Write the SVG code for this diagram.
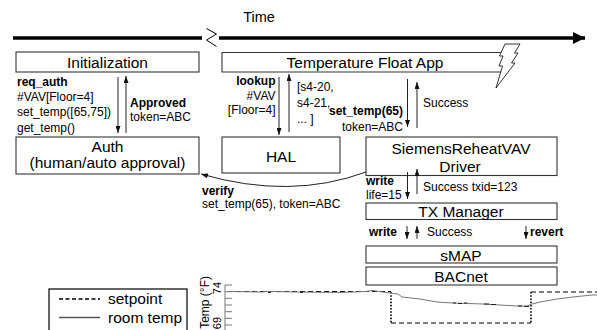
<svg xmlns="http://www.w3.org/2000/svg" width="597" height="330" viewBox="0 0 597 330">
  <style>
    .box { fill: #fff; stroke: #333; stroke-width: 1.1; }
    .t { font-family: "Liberation Sans", Arial, sans-serif; fill: #000; }
    .big { font-size: 15.5px; text-anchor: middle; }
    .sm { font-size: 12px; }
    .b { font-weight: bold; }
    .end { text-anchor: end; }
    .conn { stroke: #222; stroke-width: 1; fill: none; }
    .axis { stroke: #777; stroke-width: 1; fill: none; }
  </style>
  <defs>
    <marker id="ah" markerWidth="7" markerHeight="5" refX="7" refY="2.5" orient="auto" markerUnits="userSpaceOnUse">
      <path d="M0,0 L7,2.5 L0,5 z" fill="#111"/>
    </marker>
    <marker id="tl" markerWidth="13" markerHeight="12" refX="12" refY="6" orient="auto" markerUnits="userSpaceOnUse">
      <path d="M0,0 L12,6 L0,12 z" fill="#000"/>
    </marker>
  </defs>

  <!-- time axis with a break -->
  <g id="timeline">
    <text class="t" x="259" y="22" font-size="14.5" text-anchor="middle">Time</text>
    <line x1="13" y1="38" x2="202" y2="38" stroke="#000" stroke-width="3.4"/>
    <polyline points="206.5,28.5 216.5,34 206.5,40 216.5,46.5" fill="none" stroke="#000" stroke-width="1"/>
    <line x1="219" y1="38" x2="585" y2="38" stroke="#000" stroke-width="3.4" marker-end="url(#tl)"/>
  </g>

  <g id="initialization">
    <rect class="box" x="16" y="52" width="183" height="20"/>
    <text class="t big" x="107.5" y="67.5">Initialization</text>
  </g>

  <g id="temperature-float-app">
    <polyline points="501,52.5 222,52.5 222,72 504,72" fill="none" stroke="#333" stroke-width="1.1"/>
    <text class="t big" x="365" y="68">Temperature Float App</text>
    <polygon points="505,44 520,44 514.5,53 518,53 511.5,63 515,63 496,88 502.5,66 499,66 503,56 499.5,56" fill="#fff" stroke="#000" stroke-width="0.8" stroke-linejoin="miter"/>
  </g>

  <g id="auth">
    <rect class="box" x="16" y="137" width="183" height="37"/>
    <text class="t big" x="107.5" y="152.3" font-size="15">Auth</text>
    <text class="t big" x="107.5" y="168" font-size="15">(human/auto approval)</text>
  </g>

  <g id="hal">
    <rect class="box" x="222" y="137" width="118" height="36"/>
    <text class="t big" x="281" y="161.5">HAL</text>
  </g>

  <g id="driver">
    <rect class="box" x="366" y="137" width="191" height="38.5"/>
    <text class="t big" x="461" y="154">SiemensReheatVAV</text>
    <text class="t big" x="460" y="171.7">Driver</text>
  </g>

  <g id="tx-manager">
    <rect class="box" x="366" y="203" width="191" height="16.5"/>
    <text class="t big" x="461" y="216.5">TX Manager</text>
  </g>

  <g id="smap">
    <rect class="box" x="366" y="246" width="191" height="17"/>
    <text class="t big" x="461" y="260.5">sMAP</text>
  </g>

  <g id="bacnet">
    <rect class="box" x="366" y="267" width="191" height="18"/>
    <text class="t big" x="461" y="282">BACnet</text>
  </g>

  <!-- messages between components -->
  <g id="connectors">
    <line class="conn" x1="118" y1="77" x2="118" y2="133" marker-end="url(#ah)"/>
    <line class="conn" x1="126" y1="133" x2="126" y2="76" marker-end="url(#ah)"/>
    <line class="conn" x1="279" y1="77" x2="279" y2="135" marker-end="url(#ah)"/>
    <line class="conn" x1="289" y1="132" x2="289" y2="74" marker-end="url(#ah)"/>
    <line class="conn" x1="407.5" y1="79" x2="407.5" y2="127" marker-end="url(#ah)"/>
    <line class="conn" x1="417" y1="128" x2="417" y2="82" marker-end="url(#ah)"/>
    <line class="conn" x1="407.5" y1="172" x2="407.5" y2="199" marker-end="url(#ah)"/>
    <line class="conn" x1="417" y1="194" x2="417" y2="169" marker-end="url(#ah)"/>
    <line class="conn" x1="407" y1="226" x2="407" y2="239" marker-end="url(#ah)"/>
    <line class="conn" x1="417" y1="239" x2="417" y2="226" marker-end="url(#ah)"/>
    <line class="conn" x1="526" y1="226" x2="526" y2="239" marker-end="url(#ah)"/>
    <path class="conn" d="M366,172 Q290,200 201,174" marker-end="url(#ah)"/>
  </g>

  <g id="labels">
    <text class="t sm b" x="17" y="86">req_auth</text>
    <text class="t sm" x="17" y="101.2">#VAV[Floor=4]</text>
    <text class="t sm" x="17" y="116.4">set_temp([65,75])</text>
    <text class="t sm" x="17" y="131.6">get_temp()</text>
    <text class="t sm b" x="130" y="106.7">Approved</text>
    <text class="t sm" x="130" y="120.7">token=ABC</text>

    <text class="t sm b end" x="275.5" y="85">lookup</text>
    <text class="t sm end" x="275.5" y="99.7">#VAV</text>
    <text class="t sm end" x="275.5" y="114.4">[Floor=4]</text>
    <text class="t sm" x="297" y="91">[s4-20,</text>
    <text class="t sm" x="297" y="107">s4-21,</text>
    <text class="t sm" x="297" y="123">... ]</text>

    <text class="t sm b end" x="403" y="115">set_temp(65)</text>
    <text class="t sm end" x="403" y="130.5">token=ABC</text>
    <text class="t sm" x="423" y="107.3">Success</text>

    <text class="t sm b" x="366" y="185">write</text>
    <text class="t sm" x="366" y="198.5">life=15</text>
    <text class="t sm" x="423" y="190.7">Success txid=123</text>

    <text class="t sm b" x="369" y="236">write</text>
    <text class="t sm" x="427" y="236">Success</text>
    <text class="t sm b" x="530" y="236">revert</text>

    <text class="t sm b" x="202" y="195">verify</text>
    <text class="t sm" x="202" y="208.3">set_temp(65), token=ABC</text>
  </g>

  <!-- legend -->
  <g id="legend">
    <rect x="49" y="289" width="138" height="46" fill="#fff" stroke="#000" stroke-width="1.2"/>
    <line x1="59" y1="299" x2="100" y2="299" stroke="#000" stroke-width="1.3" stroke-dasharray="4,2.5"/>
    <text class="t" x="108" y="304" font-size="15.5">setpoint</text>
    <line x1="59" y1="317.5" x2="100" y2="317.5" stroke="#555" stroke-width="1.3"/>
    <text class="t" x="108" y="323.3" font-size="15.5">room temp</text>
  </g>

  <!-- temperature trace -->
  <g id="chart">
    <text class="t end" font-size="12" transform="translate(209,276) rotate(-90)">Temp (°F)</text>
    <text class="t" font-size="11" text-anchor="middle" transform="translate(221,288) rotate(-90)">74</text>
    <text class="t" font-size="11" text-anchor="middle" transform="translate(221,323) rotate(-90)">69</text>
    <line class="axis" x1="225" y1="285" x2="225" y2="330"/>
    <path class="axis" d="M225,285h7M225,291.7h7M225,298.3h7M225,305h7M225,311.7h7M225,318.3h7M225,325h7"/>
    <polyline points="228,291.5 391,291.5" fill="none" stroke="#000" stroke-width="1" stroke-dasharray="5,3"/>
    <polyline points="391,323 531,323" fill="none" stroke="#000" stroke-width="1" stroke-dasharray="5,3"/>
    <polyline points="531,292 597,292" fill="none" stroke="#000" stroke-width="1" stroke-dasharray="5,3"/>
    <line x1="391" y1="292" x2="391" y2="323" stroke="#000" stroke-width="1.6" stroke-dasharray="1.6,1.6"/>
    <line x1="531" y1="292" x2="531" y2="323" stroke="#000" stroke-width="1.6" stroke-dasharray="1.6,1.6"/>
    <polyline points="228,291.5 262,292 266,291.5 300,292 340,292.5 366,291.5 372,290.5 376,291 390,293 398,294 402,297 420,299 437,302 453,303 483,304 500,305 517,306 527,306 532,304 540,302 557,299 573,297 592,295 597,295" fill="none" stroke="#777" stroke-width="1"/>
    <path d="M453,303h3M458,303.5h4M464,303h3M484,304h5M491,304.5h5M518,306h4M524,306.5h5M268,292.5h3M300,292.5h3" stroke="#222" stroke-width="1" fill="none"/>
  </g>
</svg>
